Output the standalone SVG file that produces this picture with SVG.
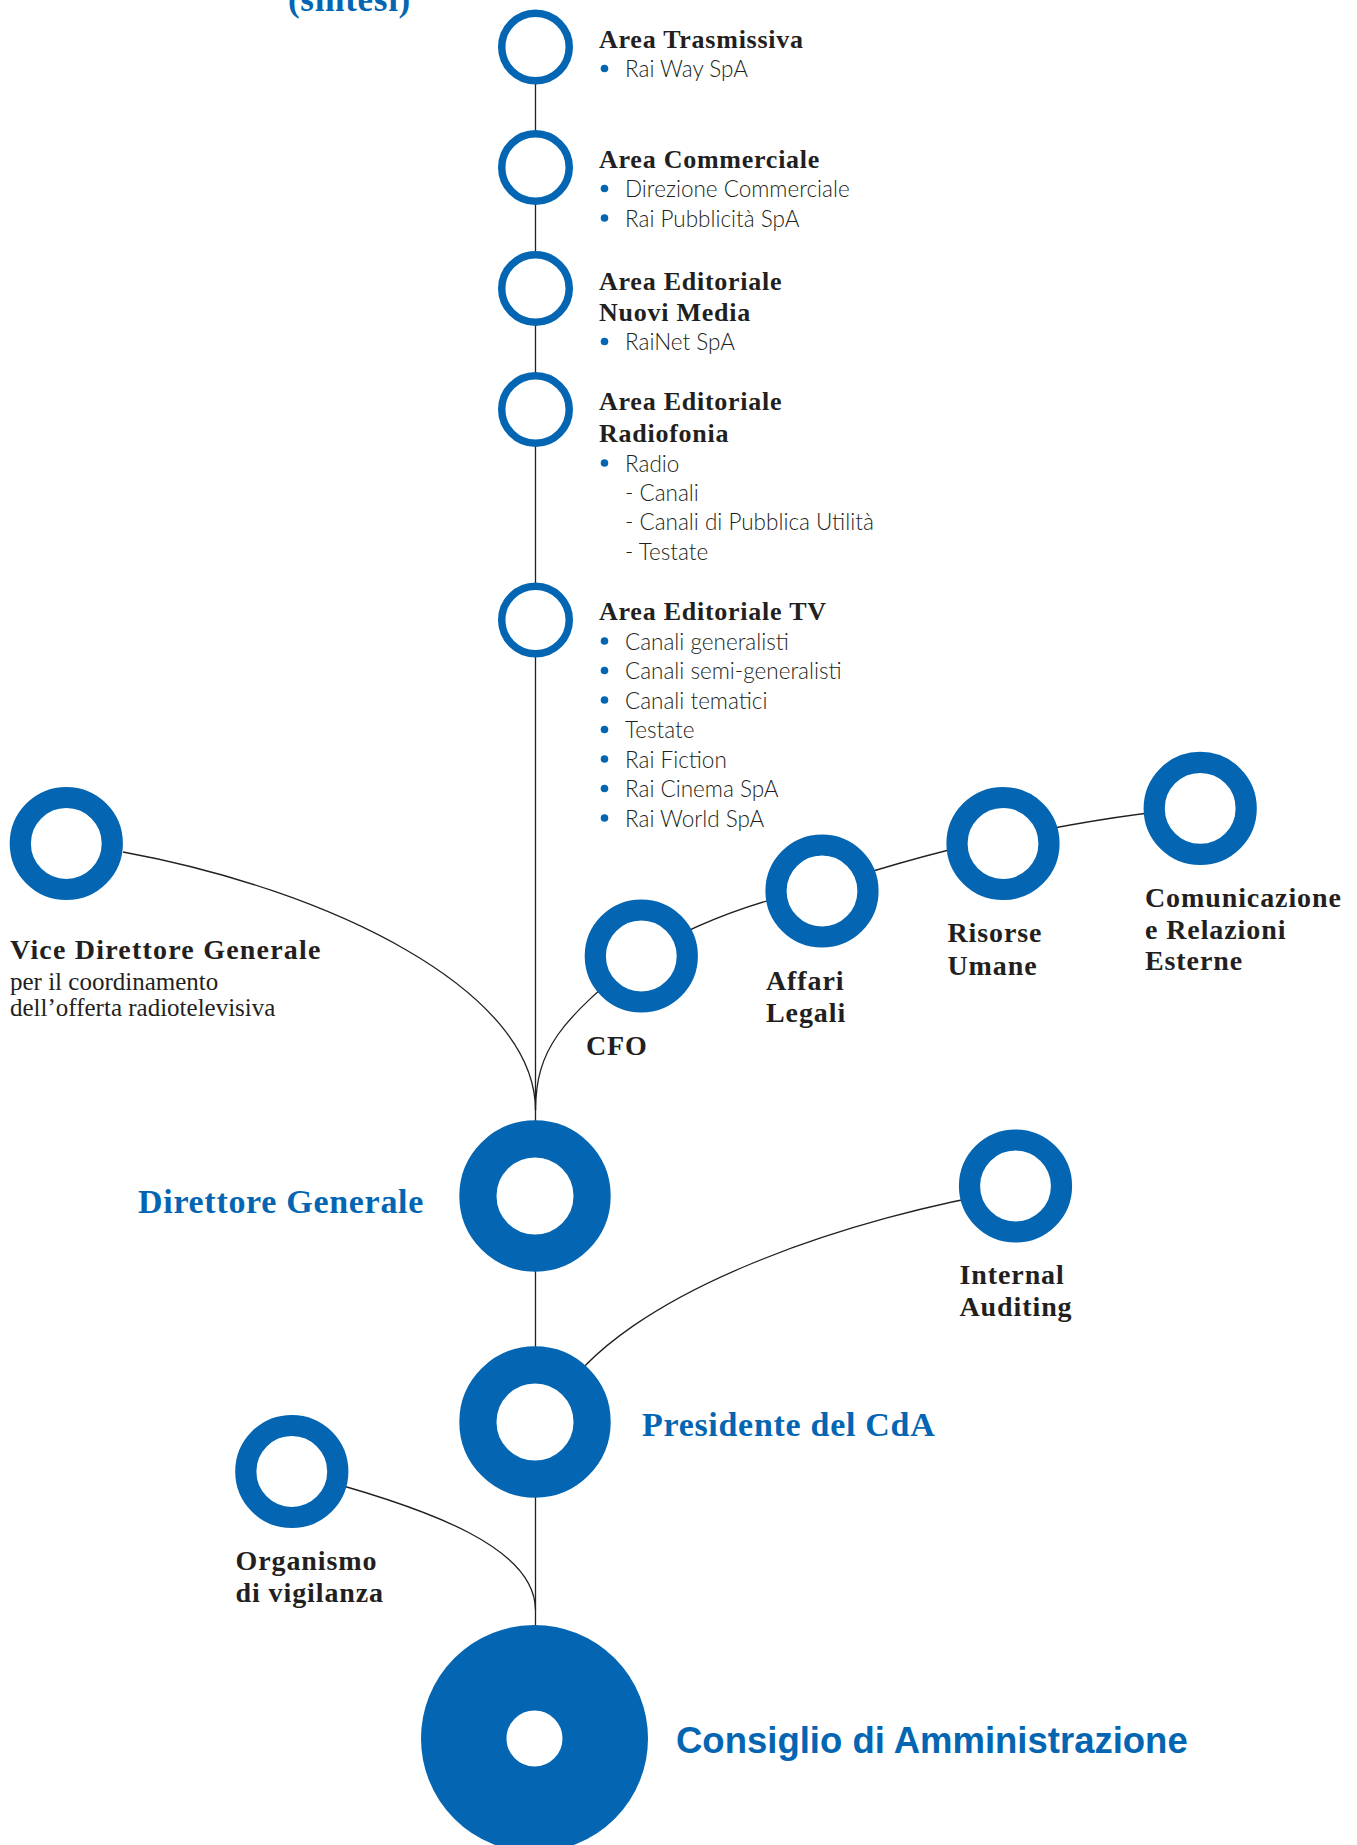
<svg xmlns="http://www.w3.org/2000/svg" width="1357" height="1845" viewBox="0 0 1357 1845">
<style>
.bg{fill:#ffffff}
.ring{fill:#ffffff;stroke:#0466b2}
.s{stroke-width:7.5}
.m{stroke-width:21.2}
.l{stroke-width:37.2}
.xl{stroke-width:85.5}
.con{fill:none;stroke:#231f20;stroke-width:1.3}
.h{font-family:"Liberation Serif","Times New Roman",serif;font-weight:bold;font-size:26px;fill:#231f20;letter-spacing:0.75px}
.lab{font-family:"Liberation Serif","Times New Roman",serif;font-weight:bold;font-size:28px;fill:#231f20;letter-spacing:0.9px}
.sub{font-family:"Liberation Serif","Times New Roman",serif;font-size:25px;fill:#231f20}
.it{font-family:Lato,"Open Sans",sans-serif;font-weight:300;font-size:22.5px;fill:#231f20}
.bt{fill:#0466b2}
.big{font-family:"Liberation Serif","Times New Roman",serif;font-weight:bold;font-size:34px;fill:#0466b2;letter-spacing:0.7px}
.cda{font-family:"Liberation Sans",Arial,sans-serif;font-weight:bold;font-size:36.5px;fill:#0466b2}
</style>
<rect class="bg" x="0" y="0" width="1357" height="1845"/>
<text class="big" x="288" y="11" style="font-size:35px">(sintesi)</text>
<g id="connectors">
<line class="con" x1="535.5" y1="47" x2="535.5" y2="1738"/>
<path class="con" d="M123,852 C330,890 535,990 535.5,1110"/>
<path class="con" d="M535.5,1110 C536,1050 560,1020 641,956"/>
<path class="con" d="M641,956 C700,920 760,900 822,887"/>
<path class="con" d="M822,887 C890,865 950,848 1003,838"/>
<path class="con" d="M1003,838 C1080,822 1140,812 1200,808"/>
<path class="con" d="M1015,1190 C860,1215 620,1290 555,1405"/>
<path class="con" d="M292,1472 C440,1510 535,1550 535.5,1610"/>
</g>
<g id="area-trasmissiva">
<circle class="ring s" cx="535.5" cy="47" r="33.75"/>
<text class="h" x="599" y="48">Area Trasmissiva</text>
<circle class="bt" cx="604.5" cy="68.5" r="3.8"/>
<text class="it" x="625" y="77">Rai Way SpA</text>
</g>
<g id="area-commerciale">
<circle class="ring s" cx="535.5" cy="167.5" r="33.75"/>
<text class="h" x="599" y="168">Area Commerciale</text>
<circle class="bt" cx="604.5" cy="188.5" r="3.8"/>
<text class="it" x="625" y="197">Direzione Commerciale</text>
<circle class="bt" cx="604.5" cy="218" r="3.8"/>
<text class="it" x="625" y="226.5">Rai Pubblicità SpA</text>
</g>
<g id="area-nuovi-media">
<circle class="ring s" cx="535.5" cy="288.5" r="33.75"/>
<text class="h" x="599" y="290">Area Editoriale</text>
<text class="h" x="599" y="321">Nuovi Media</text>
<circle class="bt" cx="604.5" cy="341.5" r="3.8"/>
<text class="it" x="625" y="350">RaiNet SpA</text>
</g>
<g id="area-radiofonia">
<circle class="ring s" cx="535.5" cy="409.5" r="33.75"/>
<text class="h" x="599" y="410">Area Editoriale</text>
<text class="h" x="599" y="442">Radiofonia</text>
<circle class="bt" cx="604.5" cy="463" r="3.8"/>
<text class="it" x="625" y="471.5">Radio</text>
<text class="it" x="625" y="500.5">- Canali</text>
<text class="it" x="625" y="530">- Canali di Pubblica Utilità</text>
<text class="it" x="625" y="559.5">- Testate</text>
</g>
<g id="area-tv">
<circle class="ring s" cx="535.5" cy="620" r="33.75"/>
<text class="h" x="599" y="620">Area Editoriale TV</text>
<circle class="bt" cx="604.5" cy="641" r="3.8"/>
<text class="it" x="625" y="649.5">Canali generalisti</text>
<circle class="bt" cx="604.5" cy="670.5" r="3.8"/>
<text class="it" x="625" y="679">Canali semi-generalisti</text>
<circle class="bt" cx="604.5" cy="700" r="3.8"/>
<text class="it" x="625" y="708.5">Canali tematici</text>
<circle class="bt" cx="604.5" cy="729.5" r="3.8"/>
<text class="it" x="625" y="738">Testate</text>
<circle class="bt" cx="604.5" cy="759" r="3.8"/>
<text class="it" x="625" y="767.5">Rai Fiction</text>
<circle class="bt" cx="604.5" cy="788.5" r="3.8"/>
<text class="it" x="625" y="797">Rai Cinema SpA</text>
<circle class="bt" cx="604.5" cy="818" r="3.8"/>
<text class="it" x="625" y="826.5">Rai World SpA</text>
</g>
<g id="vice-direttore">
<circle class="ring m" cx="66.3" cy="843.5" r="46"/>
<text class="lab" x="10" y="959" style="letter-spacing:1.2px">Vice Direttore Generale</text>
<text class="sub" x="10" y="990">per il coordinamento</text>
<text class="sub" x="10" y="1016">dell’offerta radiotelevisiva</text>
</g>
<g id="cfo">
<circle class="ring m" cx="641.3" cy="956" r="46"/>
<text class="lab" x="586" y="1055">CFO</text>
</g>
<g id="affari-legali">
<circle class="ring m" cx="822" cy="891" r="46"/>
<text class="lab" x="766" y="989.5">Affari</text>
<text class="lab" x="766" y="1021.5">Legali</text>
</g>
<g id="risorse-umane">
<circle class="ring m" cx="1003" cy="843.5" r="46"/>
<text class="lab" x="947.5" y="942">Risorse</text>
<text class="lab" x="947.5" y="974.5">Umane</text>
</g>
<g id="comunicazione">
<circle class="ring m" cx="1200.2" cy="808.4" r="46"/>
<text class="lab" x="1145" y="907">Comunicazione</text>
<text class="lab" x="1145" y="938.5">e Relazioni</text>
<text class="lab" x="1145" y="970">Esterne</text>
</g>
<g id="direttore-generale">
<circle class="ring l" cx="535" cy="1196" r="57.1"/>
<text class="big" x="138" y="1213">Direttore Generale</text>
</g>
<g id="internal-auditing">
<circle class="ring m" cx="1015.5" cy="1186" r="46"/>
<text class="lab" x="959.5" y="1284">Internal</text>
<text class="lab" x="959.5" y="1316">Auditing</text>
</g>
<g id="presidente">
<circle class="ring l" cx="535" cy="1422" r="57.1"/>
<text class="big" x="642" y="1436">Presidente del CdA</text>
</g>
<g id="organismo-vigilanza">
<circle class="ring m" cx="291.8" cy="1471.5" r="46"/>
<text class="lab" x="235.5" y="1570">Organismo</text>
<text class="lab" x="235.5" y="1601.5">di vigilanza</text>
</g>
<g id="consiglio">
<circle class="ring xl" cx="534.5" cy="1738.5" r="70.75"/>
<text class="cda" x="676" y="1752.5">Consiglio di Amministrazione</text>
</g>
</svg>
